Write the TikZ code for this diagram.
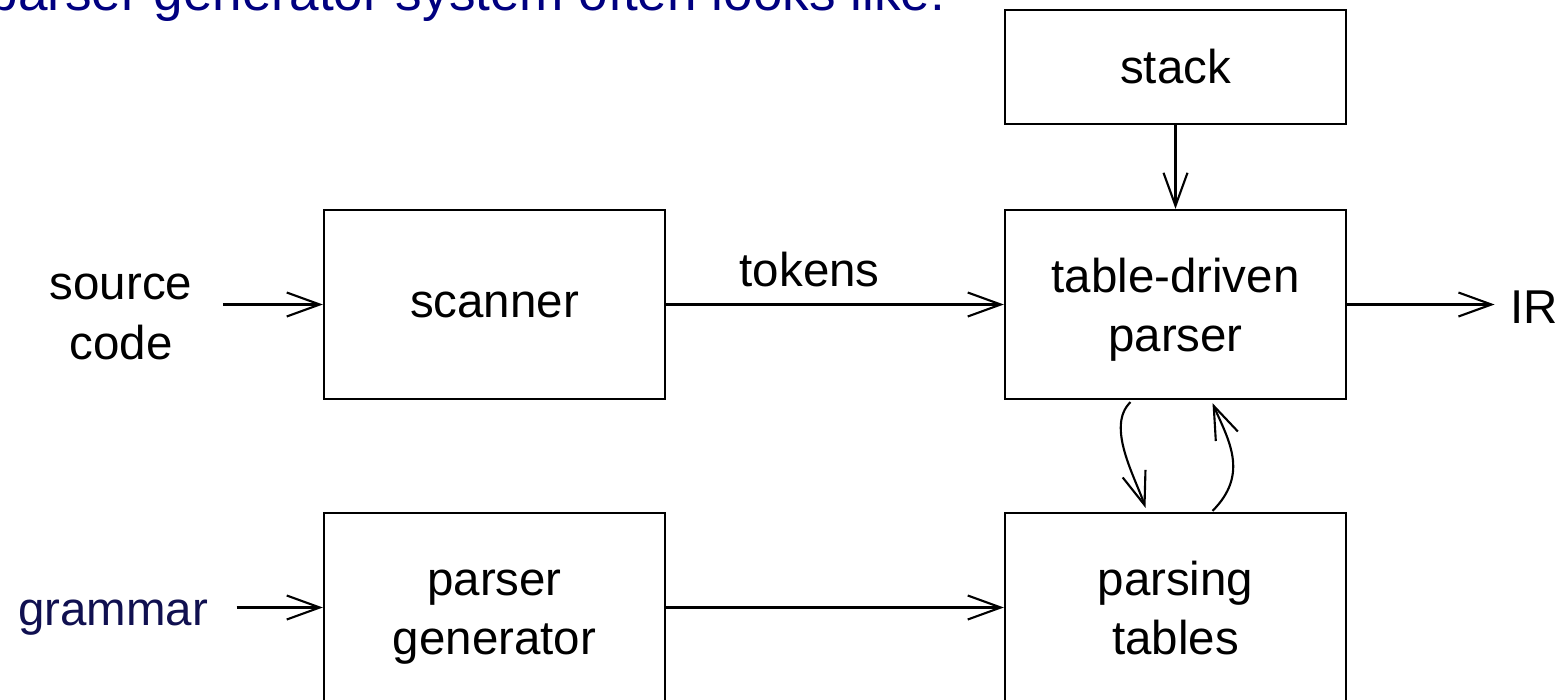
\documentclass[tikz,border=0pt]{standalone}
\usepackage{fontspec}
\setmainfont{Liberation Sans}
\usetikzlibrary{calc}
\usetikzlibrary{arrows.meta}
\definecolor{titlenavy}{RGB}{0, 0, 128}
\definecolor{inputnavy}{RGB}{16, 16, 80}
\newcommand{\twolines}[2]{\rule{0pt}{14pt}#1\\#2\rule[-4pt]{0pt}{4pt}}

\begin{document}
\begin{tikzpicture}[x=0.01cm, y=-0.01cm,
    box/.style={draw, line width=0.6pt, minimum width=3.41cm, minimum height=1.89cm,
                inner sep=0pt, align=center, font=\fontsize{13.5}{16.8}\selectfont},
    lbl/.style={inner sep=0pt, align=center, font=\fontsize{13.5}{17}\selectfont},
    flow/.style={line width=0.6pt, -{Straight Barb[length=0.33cm, width=0.24cm]}}]
            % Page frame
            \useasboundingbox (0,0) rectangle (1563,700);
            % Heading, cut by the top edge
            \node[anchor=base west, inner sep=0pt, text=titlenavy, font=\fontsize{15.1}{18}\selectfont]
                 (title) at (-12, 11) {parser generator system often looks like:};
            % Boxes
            \node[box, minimum height=1.14cm] (stack)   at (1175.5,  67.0) {stack};
            \node[box]                        (scanner) at ( 494.5, 304.5) {scanner};
            \node[box]                        (parser)  at (1175.5, 304.5) {\twolines{table-driven}{parser}};
            \node[box]                        (pgen)    at ( 494.5, 607.5) {\twolines{parser}{generator}};
            \node[box]                        (tables)  at (1175.5, 607.5) {\twolines{parsing}{tables}};
            % Inputs & output
            \node[lbl, inner xsep=0.3cm, anchor=base]  (source)  at ( 121, 359) {source\\code};
            \node[lbl, inner xsep=0.28cm, anchor=base, text=inputnavy] (grammar) at ( 113, 625) {grammar};
            \node[lbl, inner xsep=0.15cm, anchor=base] (ir)      at (1534, 323) {IR};
            % Straight flows
            \draw[flow] (scanner.west -| source.east)  -- (scanner.west);
            \draw[flow] (pgen.west -| grammar.east)    -- (pgen.west);
            \draw[flow] (scanner.east) -- (parser.west)
                 node[pos=0.425, above=0.16cm, lbl] (tokens) {tokens};
            \draw[flow] (pgen.east)    -- (tables.west);
            \draw[flow] (parser.east)  -- (parser.east -| ir.west);
            \draw[flow] (stack.south)  -- (parser.north);
            % Table lookups
            \draw[flow] ($(parser.south)+(-45, 2)$) .. controls +(-25, 24) and +(-10,-30) .. ($(tables.north)+(-30,-4)$);
            \draw[flow] ($(tables.north)+( 37,-1)$) .. controls +( 37,-37) and +( 16, 37) .. ($(parser.south)+( 37, 3)$);
\end{tikzpicture}
\end{document}
